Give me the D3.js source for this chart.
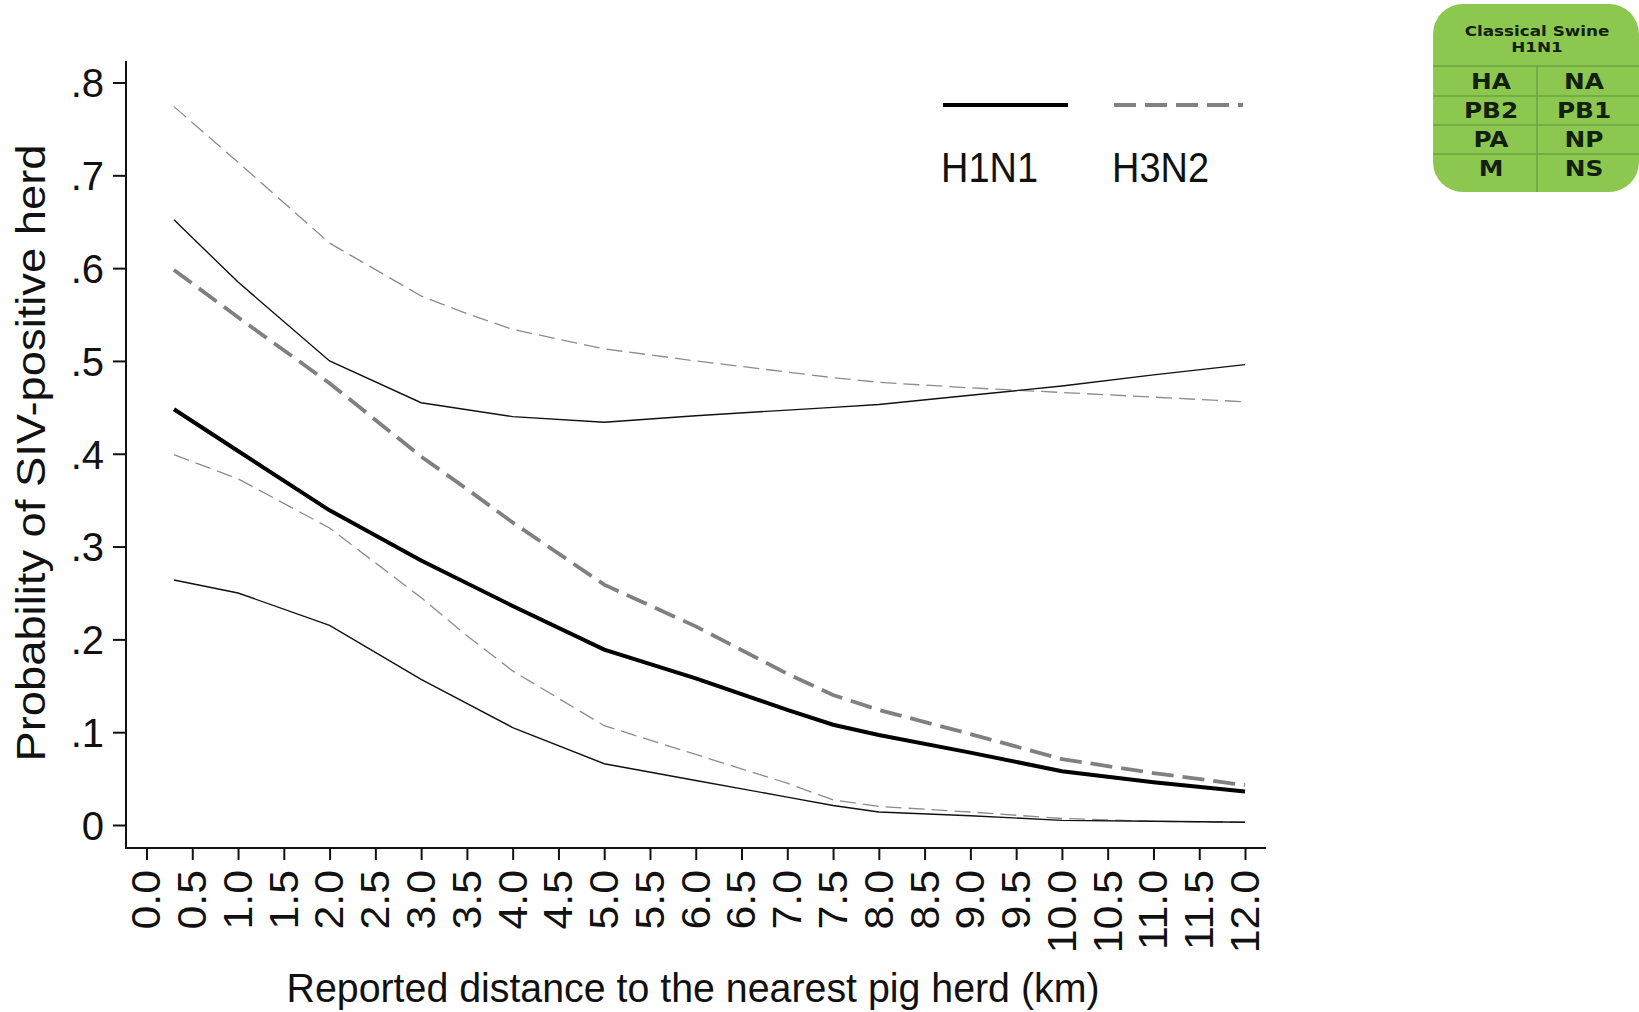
<!DOCTYPE html>
<html>
<head>
<meta charset="utf-8">
<script src="https://cdn.jsdelivr.net/npm/d3@7"></script>
<style>
html, body { margin: 0; padding: 0; background: #fff; }
svg { display: block; }
text { font-family: "Liberation Sans", Arial, sans-serif; fill: #111; }
.badge text { font-family: "DejaVu Sans", sans-serif; font-weight: bold; text-anchor: middle; fill: #12200c; }
</style>
</head>
<body>
<div class="viz"></div>
<script>
var width = 1639, height = 1012;

// values
var h1Dist = [0.3, 1, 2, 3, 4, 5, 6, 7, 7.5, 8, 9, 10, 11, 12];
var h1Mean = [.448, .403, .339, .285, .236, .189, .158, .124, .108, .097, .078, .058, .046, .036];
var h1Upper = [.652, .585, .500, .455, .440, .434, .441, .447, .450, .453, .463, .473, .485, .496];
var h1Lower = [.264, .250, .215, .157, .105, .066, .048, .030, .021, .014, .010, .005, .004, .003];

var h3Dist = [0.3, 1, 2, 3, 3.5, 4, 5, 6, 7, 7.5, 8, 9, 10, 11, 12];
var h3Mean = [.598, .547, .476, .397, .362, .326, .259, .214, .163, .140, .124, .098, .071, .056, .043];
var h3Upper = [.774, .714, .627, .570, .551, .534, .513, .500, .488, .482, .477, .471, .466, .461, .456];
var h3Lower = [.399, .373, .320, .245, .204, .166, .107, .076, .045, .027, .020, .014, .007, .004, .003];

var yTicks = [0, .1, .2, .3, .4, .5, .6, .7, .8];
var yTickLabels = ['0', '.1', '.2', '.3', '.4', '.5', '.6', '.7', '.8'];
var xTicks = d3.range(0, 12.5, 0.5);

var legendNames = ['H1N1', 'H3N2'];
var badgeTitle = ['Classical Swine', 'H1N1'];
var badgeLeft = ['HA', 'PB2', 'PA', 'M'];
var badgeRight = ['NA', 'PB1', 'NP', 'NS'];

var svg = d3.select('.viz').append('svg')
    .attr('width', width)
    .attr('height', height);

var x = d3.scaleLinear().domain([0, 12]).range([146.5, 1245]);
var y = d3.scaleLinear().domain([0, .8]).range([825, 82.5]);

var line = function (xs, ys) {
    return d3.line()
        .x(function (d, i) { return x(xs[i]); })
        .y(function (d) { return y(d); })(ys);
};

// axes
var yAxis = svg.append('g')
    .attr('transform', 'translate(126,0)')
    .call(d3.axisLeft(y).tickValues(yTicks).tickSize(13).tickPadding(9)
        .tickFormat(function (d, i) { return yTickLabels[i]; }));
yAxis.select('.domain').remove();
yAxis.append('line').attr('y1', 61).attr('y2', 848).attr('stroke', '#111').attr('stroke-width', 2);
yAxis.selectAll('.tick line').attr('stroke', '#111').attr('stroke-width', 2);
yAxis.selectAll('.tick text').style('font-size', '40px').attr('dy', '0.36em')
    .attr('fill', '#111');

var xAxis = svg.append('g')
    .attr('transform', 'translate(0,848)')
    .call(d3.axisBottom(x).tickValues(xTicks).tickSize(12).tickFormat(d3.format('.1f')));
xAxis.select('.domain').remove();
xAxis.append('line').attr('x1', 125).attr('x2', 1266).attr('stroke', '#111').attr('stroke-width', 2);
xAxis.selectAll('.tick line').attr('stroke', '#111').attr('stroke-width', 2);
xAxis.selectAll('.tick text')
    .style('font-size', '40px')
    .attr('fill', '#111')
    .attr('text-anchor', 'end')
    .attr('x', 0).attr('y', 0).attr('dy', '0.36em')
    .attr('transform', 'translate(-1,22) rotate(-90) scale(1.07,1)');

// axis titles
svg.append('text')
    .attr('transform', 'translate(45,453) rotate(-90)')
    .attr('text-anchor', 'middle')
    .attr('textLength', 617)
    .attr('lengthAdjust', 'spacingAndGlyphs')
    .style('font-size', '40px')
    .text('Probability of SIV-positive herd');

svg.append('text')
    .attr('x', 693).attr('y', 1002)
    .attr('text-anchor', 'middle')
    .attr('textLength', 813)
    .attr('lengthAdjust', 'spacingAndGlyphs')
    .style('font-size', '41px')
    .text('Reported distance to the nearest pig herd (km)');

// confidence bands and means
var gray = '#808080';
function addLine(xs, ys, color, w, dash) {
    svg.append('path')
        .attr('d', line(xs, ys))
        .attr('fill', 'none')
        .attr('stroke', color)
        .attr('stroke-width', w)
        .attr('stroke-dasharray', dash);
}
addLine(h3Dist, h3Upper, '#8c8c8c', 1.3, '16,7');
addLine(h3Dist, h3Lower, '#8c8c8c', 1.3, '16,7');
addLine(h1Dist, h1Upper, '#111', 1.4, null);
addLine(h1Dist, h1Lower, '#111', 1.4, null);
addLine(h3Dist, h3Mean, gray, 3.8, '22,9');
addLine(h1Dist, h1Mean, '#000', 4, null);

// legend
svg.append('line').attr('x1', 943).attr('x2', 1068).attr('y1', 105).attr('y2', 105)
    .attr('stroke', '#000').attr('stroke-width', 4);
svg.append('line').attr('x1', 1114).attr('x2', 1243).attr('y1', 105).attr('y2', 105)
    .attr('stroke', gray).attr('stroke-width', 3.8).attr('stroke-dasharray', '22,9');
svg.selectAll('.legend-name')
    .data(legendNames)
    .enter().append('text')
    .attr('class', 'legend-name')
    .attr('x', function (d, i) { return i === 0 ? 941 : 1112; })
    .attr('y', 182)
    .attr('textLength', 97)
    .attr('lengthAdjust', 'spacingAndGlyphs')
    .style('font-size', '43px')
    .text(function (d) { return d; });

// segment badge
var badge = svg.append('g').attr('class', 'badge');
badge.append('rect')
    .attr('x', 1433).attr('y', 4)
    .attr('width', 206).attr('height', 188)
    .attr('rx', 30).attr('ry', 30)
    .attr('fill', '#8cc850');
[66, 96, 125, 154].forEach(function (ly) {
    badge.append('line').attr('x1', 1433).attr('x2', 1639).attr('y1', ly).attr('y2', ly)
        .attr('stroke', '#6aa545').attr('stroke-width', 1.5);
});
badge.append('line').attr('x1', 1537).attr('x2', 1537).attr('y1', 66).attr('y2', 192)
    .attr('stroke', '#6aa545').attr('stroke-width', 1.5);
badge.selectAll('.title')
    .data(badgeTitle)
    .enter().append('text')
    .attr('class', 'title')
    .attr('transform', function (d, i) { return 'translate(1537,' + (36 + i * 16) + ') scale(1.2,1)'; })
    .style('font-size', '14px')
    .text(function (d) { return d; });
var rowY = [89, 118, 147, 176];
badge.selectAll('.left')
    .data(badgeLeft)
    .enter().append('text')
    .attr('class', 'left')
    .attr('transform', function (d, i) { return 'translate(1491,' + rowY[i] + ') scale(1.18,1)'; })
    .style('font-size', '21px')
    .text(function (d) { return d; });
badge.selectAll('.right')
    .data(badgeRight)
    .enter().append('text')
    .attr('class', 'right')
    .attr('transform', function (d, i) { return 'translate(1584,' + rowY[i] + ') scale(1.18,1)'; })
    .style('font-size', '21px')
    .text(function (d) { return d; });
</script>
</body>
</html>
